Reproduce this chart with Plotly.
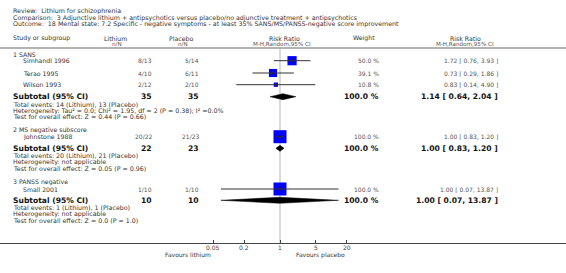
import math
import plotly.graph_objects as go

W, H = 566, 273
FONT = "DejaVu Sans"

# ---------------- data ----------------
review = "Review:  Lithium for schizophrenia"
comparison = "Comparison:  3 Adjunctive lithium + antipsychotics versus placebo/no adjunctive treatment + antipsychotics"
outcome = "Outcome:  18 Mental state: 7.2 Specific - negative symptoms - at least 35% SANS/MS/PANSS-negative score improvement"

subgroups = ["1 SANS", "2 MS negative subscore", "3 PANSS negative"]
studies = ["Simhandl 1996", "Terao 1995", "Wilson 1993", "Johnstone 1988", "Small 2001"]
study_group = [0, 0, 0, 1, 2]
lith_nN = ["8/13", "4/10", "2/12", "20/22", "1/10"]
plac_nN = ["5/14", "6/11", "2/10", "21/23", "1/10"]
weights = [50.0, 39.1, 10.8, 100.0, 100.0]
rr = [1.72, 0.73, 0.83, 1.00, 1.00]
rr_lo = [0.76, 0.29, 0.14, 0.83, 0.07]
rr_hi = [3.93, 1.86, 4.90, 1.20, 13.87]

sub_lith_total = [35, 22, 10]
sub_plac_total = [35, 23, 10]
sub_rr = [1.14, 1.00, 1.00]
sub_lo = [0.64, 0.83, 0.07]
sub_hi = [2.04, 1.20, 13.87]
sub_events = ["Total events: 14 (Lithium), 13 (Placebo)",
              "Total events: 20 (Lithium), 21 (Placebo)",
              "Total events: 1 (Lithium), 1 (Placebo)"]
sub_het = ["Heterogeneity: Tau\u00b2 = 0.0; Chi\u00b2 = 1.95, df = 2 (P = 0.38); I\u00b2 =0.0%",
           "Heterogeneity: not applicable",
           "Heterogeneity: not applicable"]
sub_test = ["Test for overall effect: Z = 0.44 (P = 0.66)",
            "Test for overall effect: Z = 0.05 (P = 0.96)",
            "Test for overall effect: Z = 0.0 (P = 1.0)"]

tick_vals = [0.05, 0.2, 1, 5, 20]
tick_text = ["0.05", "0.2", "1", "5", "20"]
fav_left = "Favours lithium"
fav_right = "Favours placebo"

# ---------------- layout positions (pixels) ----------------
X_ONE = 280.0          # pixel of RR = 1
PX_PER_DEC = 51.2
AXIS_Y = 243.0
sub_head_y = [54.0, 130.3, 182.3]
study_y = [60.7, 73.0, 84.7, 136.7, 189.0]
sub_y = [96.7, 148.3, 200.3]

x_left_log = -X_ONE / PX_PER_DEC
x_right_log = (W - X_ONE) / PX_PER_DEC

fig = go.Figure()
annots = []


def T(x, y, text, size=6.2, anchor="left", bold=False, color="#333333", yref="y", xref="paper"):
    if bold:
        text = "<b>" + text + "</b>"
    annots.append(dict(x=(x / W if xref == "paper" else x), xref=xref, y=y, yref=yref, text=text,
                       xanchor=anchor, yanchor="middle", showarrow=False,
                       borderpad=0,
                       font=dict(family=FONT, size=size, color=color)))


# header texts
T(12, 11, review, 6.3)
T(12, 17.5, comparison, 6.3)
T(12, 24, outcome, 6.3)
T(12, 38, "Study or subgroup", 6.2)
T(115, 38, "Lithium", 6.2, "center")
T(117, 44, "n/N", 5.6, "center", color="#555555")
T(181, 38, "Placebo", 6.2, "center")
T(183, 44, "n/N", 5.6, "center", color="#555555")
T(284, 38, "Risk Ratio", 6.2, "center")
T(282, 44, "M-H,Random,95% CI", 5.6, "center", color="#555555")
T(364, 38, "Weight", 6.2, "center")
T(465, 38, "Risk Ratio", 6.2, "center")
T(465, 44, "M-H,Random,95% CI", 5.6, "center", color="#555555")

# subgroup headings
for g, name in enumerate(subgroups):
    T(12, sub_head_y[g], name, 6.2)

# study rows
for i, name in enumerate(studies):
    y = study_y[i]
    T(22, y, name, 6.2)
    T(153, y, lith_nN[i], 6.0, "right", color="#555555")
    T(200, y, plac_nN[i], 6.0, "right", color="#555555")
    T(380, y, f"{weights[i]:.1f} %", 6.0, "right", color="#555555")
    T(499, y, f"{rr[i]:.2f} [ {rr_lo[i]:.2f}, {rr_hi[i]:.2f} ]", 6.0, "right", color="#555555")

# subtotals
for g in range(len(subgroups)):
    y = sub_y[g]
    T(12, y, "Subtotal (95% CI)", 7.6, bold=True, color="#111111")
    T(153, y, str(sub_lith_total[g]), 7.6, "right", bold=True, color="#111111")
    T(200, y, str(sub_plac_total[g]), 7.6, "right", bold=True, color="#111111")
    T(380, y, "100.0 %", 7.6, "right", bold=True, color="#111111")
    T(499, y, f"{sub_rr[g]:.2f} [ {sub_lo[g]:.2f}, {sub_hi[g]:.2f} ]", 7.6, "right", bold=True, color="#111111")
    T(12, y + 7.5, sub_events[g], 6.3)
    T(12, y + 13.8, sub_het[g], 6.3)
    T(12, y + 20.0, sub_test[g], 6.3)

# tick labels, placed through the log axis
for v, s in zip(tick_vals, tick_text):
    T(math.log10(v), (H - 247.5) / H, s, 6.0, "center", color="#444444",
      yref="paper", xref="x")

# favours labels (below axis)
T(188, (H - 254.5) / H, fav_left, 6.0, "center", yref="paper")
T(320, (H - 254.5) / H, fav_right, 6.0, "center", yref="paper")

# ---------------- marks ----------------
# study boxes
fig.add_trace(go.Scatter(
    x=rr, y=study_y, mode="markers",
    marker=dict(symbol="square", color="#0000ff", opacity=1,
                size=[13 * math.sqrt(w / 100.0) for w in weights],
                line=dict(width=0)),
    hoverinfo="skip", showlegend=False))

# CI lines
for i in range(len(studies)):
    fig.add_trace(go.Scatter(
        x=[rr_lo[i], rr_hi[i]], y=[study_y[i], study_y[i]], mode="lines",
        line=dict(color="#333333", width=1), hoverinfo="skip", showlegend=False))

# centre ticks
fig.add_trace(go.Scatter(
    x=rr, y=study_y, mode="markers",
    marker=dict(symbol="line-ns", size=3, opacity=1, line=dict(color="#222222", width=1)),
    hoverinfo="skip", showlegend=False))

# diamonds
DH = 3.0
for g in range(len(subgroups)):
    y = sub_y[g]
    fig.add_trace(go.Scatter(
        x=[sub_lo[g], sub_rr[g], sub_hi[g], sub_rr[g], sub_lo[g]],
        y=[y, y - DH, y, y + DH, y],
        mode="lines", fill="toself", fillcolor="#000000",
        line=dict(color="#000000", width=0.5),
        hoverinfo="skip", showlegend=False))

shapes = [
    dict(type="line", xref="paper", yref="y", x0=0, x1=1, y0=48, y1=48,
         line=dict(color="#9a9a9a", width=1.5)),
    dict(type="line", xref="x", yref="y", x0=1, x1=1, y0=49, y1=AXIS_Y,
         line=dict(color="#dadada", width=2), layer="below"),
]

fig.update_layout(
    width=W, height=H,
    margin=dict(l=0, r=0, t=0, b=0),
    paper_bgcolor="white", plot_bgcolor="white",
    showlegend=False,
    annotations=annots,
    shapes=shapes,
    xaxis=dict(type="log", range=[x_left_log, x_right_log], domain=[0, 1],
               showgrid=False, zeroline=False, showline=True,
               linecolor="#444444", linewidth=1,
               ticks="inside", ticklen=3, tickcolor="#444444",
               tickvals=tick_vals, showticklabels=False,
               fixedrange=True),
    yaxis=dict(range=[AXIS_Y, 0], domain=[(H - AXIS_Y) / H, 1],
               visible=False, fixedrange=True),
)

fig.write_html("out.html",
               config={"displayModeBar": False},
               post_script="document.body.style.margin='0';document.body.style.overflow='hidden';")
